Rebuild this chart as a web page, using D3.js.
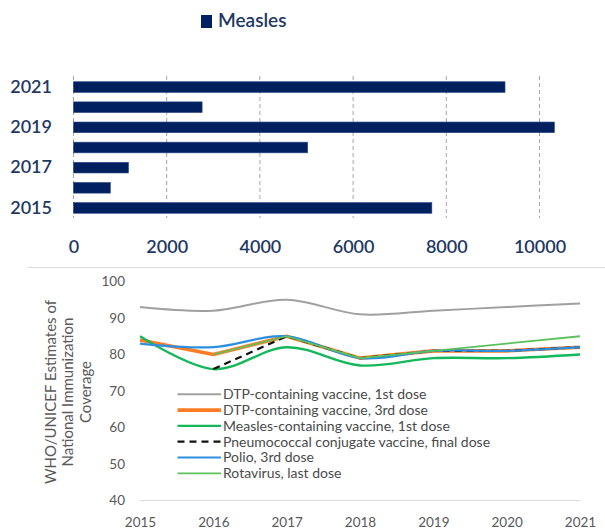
<!DOCTYPE html>
<html>
<head>
<meta charset="utf-8">
<script src="https://cdn.jsdelivr.net/npm/d3@7/dist/d3.min.js"></script>
<style>
  body { margin: 0; background: #fff; }
  svg { display: block; font-family: Lato, "Open Sans", sans-serif; }
</style>
</head>
<body>
<script>
(function () {
  "use strict";
  var w = 605,
      h = 529;

  // top chart: measles cases per year
  var years = [2015, 2016, 2017, 2018, 2019, 2020, 2021];
  var measles = [7690, 790, 1180, 5025, 10320, 2760, 9260];
  var yearTicks = [2015, 2017, 2019, 2021];
  var caseTicks = [0, 2000, 4000, 6000, 8000, 10000];

  // bottom chart: coverage (%) by vaccine
  var seriesNames = [
    "DTP-containing vaccine, 1st dose",
    "DTP-containing vaccine, 3rd dose",
    "Measles-containing vaccine, 1st dose",
    "Pneumococcal conjugate vaccine, final dose",
    "Polio, 3rd dose",
    "Rotavirus, last dose"
  ];
  var dtp1 = [93, 92, 95, 91, 92, 93, 94];
  var dtp3 = [84, 80, 85, 79, 81, 81, 82];
  var mcv1 = [85, 76, 82, 77, 79, 79, 80];
  var pcv = [null, 76, 85, 79, 81, 81, 82];
  var polio = [83, 82, 85, 79, 81, 81, 82];
  var rota = [null, 80, 85, 79, 81, 83, 85];
  var coverageTicks = [40, 50, 60, 70, 80, 90, 100];

  var svg = d3.select("body")
              .append("svg")
              .attr("width", w)
              .attr("height", h);

  // ---------- bar chart ----------
  var navy = "#1f3864";
  var x = d3.scaleLinear().domain([0, 10000]).range([73.5, 539.5]);
  var y = d3.scaleBand()
            .domain(years.slice().reverse())
            .range([77, 218])
            .paddingInner(0.47)
            .paddingOuter(0.235);

  svg.append("g")
     .selectAll("line")
     .data(caseTicks)
     .enter()
     .append("line")
     .attr("x1", d => x(d))
     .attr("x2", d => x(d))
     .attr("y1", 76)
     .attr("y2", 218)
     .attr("stroke", "#a6a6a6")
     .attr("stroke-width", 1)
     .attr("stroke-dasharray", "4,3");

  svg.append("g")
     .selectAll("rect")
     .data(years)
     .enter()
     .append("rect")
     .attr("x", x(0))
     .attr("y", d => y(d))
     .attr("width", (d, i) => x(measles[i]) - x(0))
     .attr("height", y.bandwidth())
     .attr("fill", "#002060")
     .attr("stroke", "#2a4a85")
     .attr("stroke-width", 0.6);

  var xAxisTop = svg.append("g")
     .attr("transform", "translate(0,228)")
     .call(d3.axisBottom(x).tickValues(caseTicks).tickFormat(d3.format("d")).tickSize(0).tickPadding(0));
  xAxisTop.select(".domain").remove();
  xAxisTop.selectAll("text")
     .attr("dy", "0")
     .attr("y", 25)
     .attr("fill", navy)
     .style("font-size", "18px")
     .style("font-weight", "600")
     .style("font-family", "Lato, sans-serif");

  var yAxisTop = svg.append("g")
     .attr("transform", "translate(52,0)")
     .call(d3.axisLeft(y).tickValues(yearTicks).tickSize(0).tickPadding(0));
  yAxisTop.select(".domain").remove();
  yAxisTop.selectAll("text")
     .attr("fill", navy)
     .style("font-size", "18px")
     .style("font-weight", "600")
     .style("font-family", "Lato, sans-serif");

  // legend
  svg.append("rect")
     .attr("x", 201)
     .attr("y", 15)
     .attr("width", 11)
     .attr("height", 13)
     .attr("fill", "#002060");
  svg.append("text")
     .attr("x", 218)
     .attr("y", 27)
     .attr("fill", navy)
     .style("font-size", "19px")
     .style("font-weight", "600")
     .text("Measles");

  // separator
  svg.append("line")
     .attr("x1", 28)
     .attr("x2", w)
     .attr("y1", 267.5)
     .attr("y2", 267.5)
     .attr("stroke", "#d9d9d9");

  // ---------- line chart ----------
  var lx = d3.scalePoint().domain(years).range([140, 580]);
  var ly = d3.scaleLinear().domain([40, 100]).range([500.5, 281.5]);

  var series = [
    { name: seriesNames[0], values: dtp1, color: "#a0a0a0", width: 2, dash: null, smooth: true },
    { name: seriesNames[1], values: dtp3, color: "#ff7c24", width: 3.6, dash: null, smooth: false },
    { name: seriesNames[2], values: mcv1, color: "#13b85a", width: 2.4, dash: null, smooth: true },
    { name: seriesNames[3], values: pcv, color: "#111111", width: 2.2, dash: "7,5", smooth: false },
    { name: seriesNames[4], values: polio, color: "#2d8fe0", width: 2.2, dash: null, smooth: true },
    { name: seriesNames[5], values: rota, color: "#5cc25c", width: 1.8, dash: null, smooth: false }
  ];

  svg.append("line")
     .attr("x1", lx(2015))
     .attr("x2", lx(2021))
     .attr("y1", ly(40))
     .attr("y2", ly(40))
     .attr("stroke", "#d9d9d9");

  var yAxisBot = svg.append("g")
     .attr("transform", "translate(125,0)")
     .call(d3.axisLeft(ly).tickValues(coverageTicks).tickSize(0).tickPadding(0));
  yAxisBot.select(".domain").remove();
  yAxisBot.selectAll("text")
     .attr("fill", "#595959")
     .style("font-size", "13.5px")
     .style("font-family", "Lato, sans-serif");

  var xAxisBot = svg.append("g")
     .attr("transform", "translate(0,512)")
     .call(d3.axisBottom(lx).tickSize(0).tickPadding(0));
  xAxisBot.select(".domain").remove();
  xAxisBot.selectAll("text")
     .attr("dy", "0")
     .attr("y", 14.5)
     .attr("fill", "#595959")
     .style("font-size", "13.5px")
     .style("font-family", "Lato, sans-serif");

  svg.append("g")
     .selectAll("path")
     .data(series)
     .enter()
     .append("path")
     .attr("fill", "none")
     .attr("stroke", d => d.color)
     .attr("stroke-width", d => d.width)
     .attr("stroke-dasharray", d => d.dash)
     .attr("stroke-linejoin", "round")
     .attr("d", d => d3.line()
        .defined(v => v != null)
        .x((v, i) => lx(years[i]))
        .y(v => ly(v))
        .curve(d.smooth ? d3.curveCardinal : d3.curveLinear)(d.values));

  // axis title
  var title = svg.append("text")
     .attr("transform", "translate(68,392) rotate(-90)")
     .attr("text-anchor", "middle")
     .attr("fill", "#595959")
     .style("font-size", "15px");
  ["WHO/UNICEF Estimates of", "National Immunization", "Coverage"].forEach(function (t, i) {
    title.append("tspan")
         .attr("x", 0)
         .attr("y", (i - 1) * 17.5 + 5)
         .text(t);
  });

  // legend
  var leg = svg.append("g")
     .selectAll("g")
     .data(series)
     .enter()
     .append("g")
     .attr("transform", (d, i) => "translate(0," + (394.3 + i * 15.8) + ")");
  leg.append("line")
     .attr("x1", 177.5)
     .attr("x2", 221)
     .attr("stroke", d => d.color)
     .attr("stroke-width", d => d.width)
     .attr("stroke-dasharray", d => d.dash);
  leg.append("text")
     .attr("x", 223)
     .attr("dy", "0.35em")
     .attr("fill", "#4a4a4a")
     .style("font-size", "14px")
     .text(d => d.name);
})();
</script>
</body>
</html>
